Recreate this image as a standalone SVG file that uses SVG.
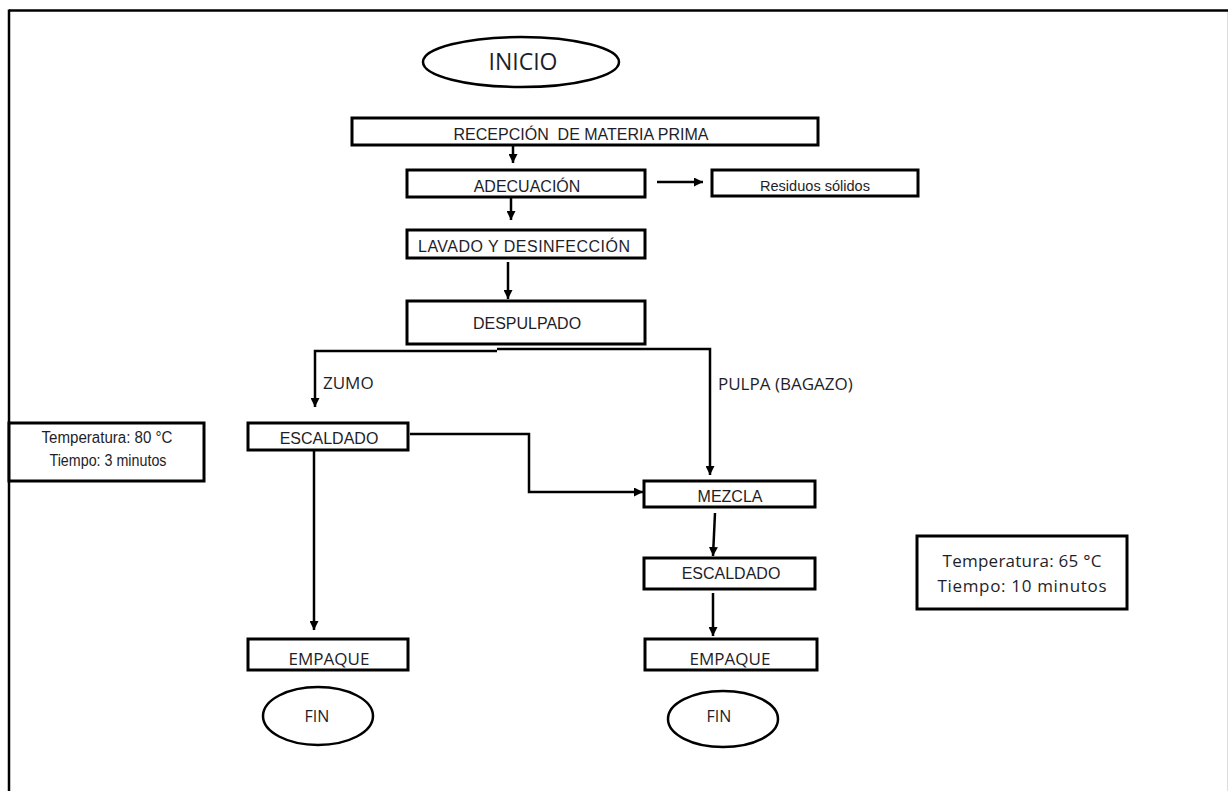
<svg xmlns="http://www.w3.org/2000/svg" width="1228" height="791" viewBox="0 0 1228 791">
<defs>
<marker id="ah" viewBox="0 0 10 10" refX="10" refY="5" markerWidth="9" markerHeight="9" markerUnits="userSpaceOnUse" orient="auto">
<path d="M0,0 L10,5 L0,10 z" fill="#000"/>
</marker>
<style>
.box{fill:#fff;stroke:#000;stroke-width:3}
.ell{fill:#fff;stroke:#000;stroke-width:2.5}
.ar{font-family:"Liberation Sans",Arial,sans-serif;font-size:16px;fill:#1e1e28;text-anchor:middle;white-space:pre}
.ca{font-family:"Open Sans","Liberation Sans",sans-serif;font-size:17px;fill:#1e1e28}
.mid{text-anchor:middle}
.con{fill:none;stroke:#000;stroke-width:2.5}
.arr{marker-end:url(#ah)}
</style>
</defs>
<rect x="0" y="0" width="1228" height="791" fill="#fff"/>
<g id="frame">
<line x1="9" y1="10.5" x2="1228" y2="10.5" stroke="#000" stroke-width="2.5"/>
<line x1="9" y1="9.5" x2="9" y2="791" stroke="#000" stroke-width="2.5"/>
<line x1="1227.5" y1="12" x2="1227.5" y2="791" stroke="#ddd" stroke-width="1"/>
</g>
<g id="connectors">
<path class="con arr" d="M513,145 V163"/>
<path class="con arr" d="M511,197 V220"/>
<path class="con arr" d="M508,262 V299"/>
<path class="con arr" d="M657,182 H703"/>
<path class="con arr" d="M497,351 H315 V407"/>
<path class="con arr" d="M497,349 H710 V475"/>
<path class="con arr" d="M410,434 H529 V492 H643"/>
<path class="con arr" d="M314,450 V630"/>
<path class="con arr" d="M715,513 L713,556"/>
<path class="con arr" d="M713,593 V636"/>
</g>
<g id="inicio">
<ellipse class="ell" cx="521" cy="62" rx="98" ry="25"/>
<text class="ca mid" x="523" y="70" style="font-size:23px">INICIO</text>
</g>
<g id="recepcion">
<rect class="box" x="352" y="118" width="466" height="27"/>
<text class="ar" x="581" y="140" xml:space="preserve">RECEPCIÓN  DE MATERIA PRIMA</text>
</g>
<g id="adecuacion">
<rect class="box" x="407" y="170" width="238" height="27"/>
<text class="ar" x="527" y="192">ADECUACIÓN</text>
</g>
<g id="residuos">
<rect class="box" x="712" y="170" width="206" height="26"/>
<text class="ar" x="815" y="191" style="font-size:15px" textLength="110" lengthAdjust="spacingAndGlyphs">Residuos sólidos</text>
</g>
<g id="lavado">
<rect class="box" x="407" y="230" width="238" height="28"/>
<text class="ar" x="524" y="252" textLength="212">LAVADO Y DESINFECCIÓN</text>
</g>
<g id="despulpado">
<rect class="box" x="407" y="301" width="238" height="43"/>
<text class="ar" x="527" y="329">DESPULPADO</text>
</g>
<g id="label-zumo">
<text class="ca" x="323" y="389">ZUMO</text>
</g>
<g id="label-pulpa">
<text class="ca" x="718" y="390">PULPA (BAGAZO)</text>
</g>
<g id="temp-80">
<rect class="box" x="9" y="423" width="195" height="58"/>
<text class="ar" x="107" y="443" textLength="131" lengthAdjust="spacingAndGlyphs">Temperatura: 80 °C</text>
<text class="ar" x="108" y="466" textLength="117" lengthAdjust="spacingAndGlyphs">Tiempo: 3 minutos</text>
</g>
<g id="escaldado-1">
<rect class="box" x="248" y="423" width="160" height="27"/>
<text class="ar" x="329" y="444">ESCALDADO</text>
</g>
<g id="mezcla">
<rect class="box" x="644" y="481" width="171" height="26"/>
<text class="ar" x="730" y="502">MEZCLA</text>
</g>
<g id="escaldado-2">
<rect class="box" x="644" y="558" width="171" height="31"/>
<text class="ar" x="731" y="579">ESCALDADO</text>
</g>
<g id="temp-65">
<rect class="box" x="917" y="536" width="210" height="73"/>
<text class="ca mid" x="1022" y="567" textLength="159">Temperatura: 65 °C</text>
<text class="ca mid" x="1022" y="592" textLength="169">Tiempo: 10 minutos</text>
</g>
<g id="empaque-1">
<rect class="box" x="248" y="639" width="160" height="31"/>
<text class="ca mid" x="329" y="665">EMPAQUE</text>
</g>
<g id="empaque-2">
<rect class="box" x="645" y="639" width="172" height="31"/>
<text class="ca mid" x="730" y="665">EMPAQUE</text>
</g>
<g id="fin-1">
<ellipse class="ell" cx="318" cy="716" rx="55" ry="29"/>
<text class="ca mid" x="317" y="722" style="font-size:16px">FIN</text>
</g>
<g id="fin-2">
<ellipse class="ell" cx="723" cy="719" rx="55" ry="28"/>
<text class="ca mid" x="719" y="722" style="font-size:16px">FIN</text>
</g>
</svg>
